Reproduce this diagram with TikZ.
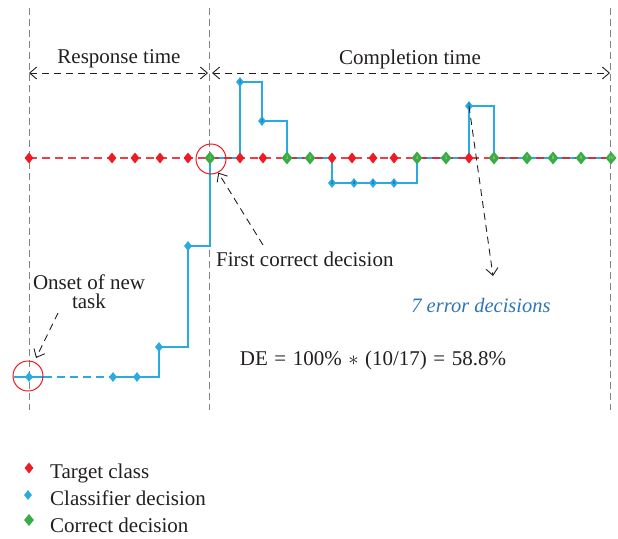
\documentclass[tikz,border=0pt]{standalone}
\usepackage{fontspec}
\setmainfont{Liberation Serif}
\usetikzlibrary{arrows.meta,shapes.geometric}
\definecolor{tred}{RGB}{237,28,36}
\definecolor{cblue}{RGB}{41,171,226}
\definecolor{cgreen}{RGB}{57,172,74}
\definecolor{lblue}{RGB}{46,117,182}
\definecolor{vgray}{RGB}{130,130,130}
\definecolor{numyel}{RGB}{215,225,90}
\definecolor{numblue}{RGB}{20,60,120}
\definecolor{txt}{RGB}{35,31,32}
\begin{document}
\begin{tikzpicture}[x=1pt,y=-1pt,
  redmk/.style={diamond,fill=tred,inner sep=0pt,minimum width=9pt,minimum height=11pt},
  bluemk/.style={diamond,fill=cblue,inner sep=0pt,minimum width=8pt,minimum height=10pt,
    text=numblue,font=\fontsize{5}{5}\selectfont},
  greenmk/.style={diamond,fill=cgreen,inner sep=0pt,minimum width=11pt,minimum height=13pt,
    text=numyel,font=\fontsize{5}{5}\selectfont},
  vline/.style={vgray,line width=0.9pt,dash pattern=on 7pt off 4pt},
  redline/.style={tred,line width=1.3pt,dash pattern=on 8pt off 5pt,opacity=0.85},
  blueline/.style={cblue,line width=1.4pt},
  barb/.tip={Straight Barb[length=7pt,width=12pt,line width=0.9pt]},
  arr/.style={txt,line width=0.9pt,dash pattern=on 7pt off 5pt,-barb},
  arrb/.style={txt,line width=0.9pt,dash pattern=on 7pt off 5pt,barb-barb},
  lbl/.style={text=txt,inner sep=0pt,font=\fontsize{21}{19}\selectfont},
  ring/.style={draw=tred,line width=1pt,circle,minimum size=30pt,inner sep=0pt}
]
\useasboundingbox (0,0) rectangle (618,538);
% vertical guides
\coordinate (vAt) at (29,8);   \coordinate (vAb) at (29,410);
\coordinate (vBt) at (209,8);  \coordinate (vBb) at (209,410);
\coordinate (vCt) at (610,8);  \coordinate (vCb) at (610,410);
\draw[vline] (vAt) -- (vAb);
\draw[vline] (vBt) -- (vBb);
\draw[vline] (vCt) -- (vCb);
% time arrows
\coordinate (tl) at (29,73); \coordinate (tm1) at (208,73);
\coordinate (tm2) at (212,73); \coordinate (tr) at (610,73);
\draw[arrb] (tl) -- (tm1);
\draw[arrb] (tm2) -- (tr);
\node[lbl,anchor=base] (resp) at (119,63) {Response time};
\node[lbl,anchor=base] (comp) at (410,64) {Completion time};
% coordinates of decisions
\coordinate (r1) at (29,158);  \coordinate (r2) at (112,158); \coordinate (r3) at (135,158);
\coordinate (r4) at (160,158); \coordinate (r5) at (188,158); \coordinate (r6) at (240,158);
\coordinate (r7) at (263,158); \coordinate (r8) at (332,158); \coordinate (r9) at (352,158);
\coordinate (r10) at (373,158); \coordinate (r11) at (394,158); \coordinate (r12) at (469,158);
\coordinate (g1) at (210,158); \coordinate (g2) at (287,158); \coordinate (g3) at (310,158);
\coordinate (g4) at (417,158); \coordinate (g5) at (446,158); \coordinate (g6) at (494,158);
\coordinate (g7) at (527,158); \coordinate (g8) at (553,158); \coordinate (g9) at (581,158);
\coordinate (g10) at (611,158);
\coordinate (e1) at (240,82); \coordinate (e2) at (262,121); \coordinate (e3) at (332,183);
\coordinate (e4) at (354,183); \coordinate (e5) at (373,183); \coordinate (e6) at (394,183);
\coordinate (e7) at (469,106);
\coordinate (bo) at (29,377); \coordinate (ba) at (113,377); \coordinate (bb) at (137,377);
\coordinate (bc) at (159,347); \coordinate (bd) at (188,246);
\coordinate (bstart) at (14,377); \coordinate (bdash) at (44,377);
% classifier line
\draw[blueline] (bstart) -- (bdash);
\draw[blueline,dash pattern=on 8pt off 5pt] (bdash) -- (ba);
\draw[blueline,line join=miter] (ba) -- (bb) -| (bc) -| (bd) -| (g1) -| (e1) -| (e2) -| (g2)
   -- (r8) -- (e3) -- (e6) -| (g4) -- (r12) -- (e7) -| (g6) -- (g10);
% target line
\draw[redline] (r1) -- (g10);
% markers
\foreach \i in {1,...,12} \node[redmk] (R\i) at (r\i) {};
\foreach \i in {1,...,10} \node[greenmk] (G\i) at (g\i) {\i};
\foreach \i in {1,...,7} \node[bluemk] (E\i) at (e\i) {\i};
\foreach \n in {bo,ba,bb,bc,bd} \node[bluemk] (M\n) at (\n) {};
% rings
\node[ring] (ring1) at (211,159) {};
\node[ring] (ring0) at (28,376) {};
% annotations
\node[lbl,anchor=base west] (fcd) at (216,266) {First correct decision};
\coordinate (fcdt) at (263,245);
\draw[arr] (fcdt) -- (ring1.-62);
\node[lbl,align=center,anchor=base] (onset) at (89,308) {Onset of new\\task};
\coordinate (ont) at (58,313); \coordinate (onh) at (36,358);
\draw[arr] (ont) -- (onh);
\node[lbl,anchor=base,text=lblue,font=\fontsize{20.5}{24}\selectfont\itshape] (err) at (481,312) {7 error decisions};
\coordinate (errh) at (493,276);
\draw[arr] (E7.center) -- (errh);
\node[lbl,anchor=base] (de) at (373,365) {\spaceskip=6.5pt DE = 100\% $\ast$ (10/17) = 58.8\%};
% legend
\node[redmk] (L1) at (29,468) {};
\node[bluemk] (L2) at (28,495) {};
\node[greenmk,minimum width=10pt,minimum height=12pt] (L3) at (29,520) {};
\node[lbl,anchor=base west] (lt1) at (50,478) {Target class};
\node[lbl,anchor=base west] (lt2) at (50,505) {Classifier decision};
\node[lbl,anchor=base west] (lt3) at (50,532) {Correct decision};
\end{tikzpicture}
\end{document}
